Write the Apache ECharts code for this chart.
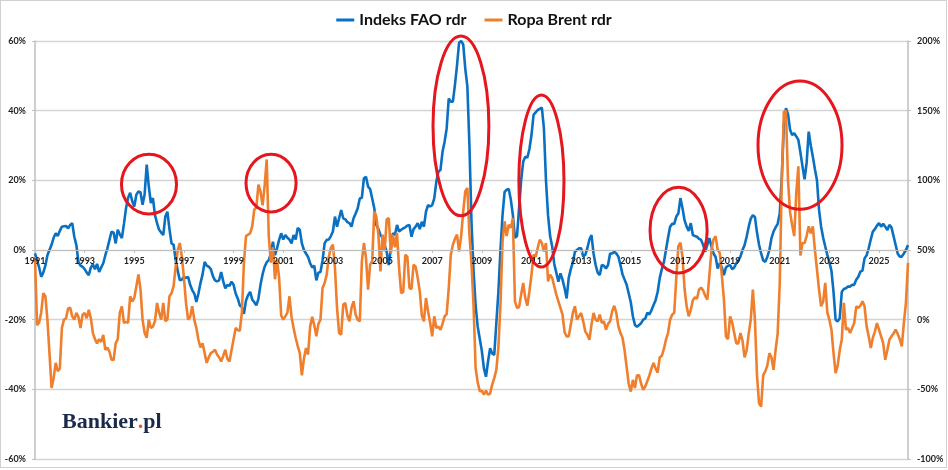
<!DOCTYPE html>
<html>
<head>
<meta charset="utf-8">
<script src="https://cdn.jsdelivr.net/npm/echarts@6/dist/echarts.min.js"></script>
<style>
  html, body { margin: 0; padding: 0; background: #fff; }
  #wrap { position: relative; width: 948px; height: 470px; }
  #chart { position: absolute; left: 0; top: 0; width: 948px; height: 470px; }
  #frame { position: absolute; left: 0; top: 0; width: 945px; height: 466px; border: 1.5px solid #d0d0d0; pointer-events: none; }
</style>
</head>
<body>
<div id="wrap"><div id="chart"></div><div id="frame"></div></div>
<script>
// ---- data (monthly, starting January 1991) ----
const startYear = 1991;
const seriesNames = ['Indeks FAO rdr', 'Ropa Brent rdr'];

// FAO food price index, y/y change in % (left axis)
const faoYoY = [
  -1,-3,-5,-7.7,-6.5,-4.5,-1.5,0,1.5,3.5,4.8,4.0,
  5.5,6.7,6.8,6.9,6.2,7.2,7.7,3.8,1.4,-3.4,-4.5,-4.8,
  -5.5,-6.5,-7.2,-5.0,-4.2,-5.5,-4.0,-6.3,-5.0,-3.8,-1.5,0.5,
  2.9,5.3,5.0,1.9,5.8,4.5,3.4,7.5,12,15,16.4,14,
  12.5,15.9,16.8,16.5,13,16,24.5,18.3,13.5,14.9,10,7.7,
  5.8,5.0,4.3,9.6,11,6,1.9,1.5,-2.9,-6,-8.7,-8.5,
  -7.7,-8,-7.7,-10,-11.5,-12.5,-14.9,-12.5,-9.5,-7,-3.4,-4.5,
  -4.8,-5.5,-7.5,-8.7,-9,-8.7,-6.3,-9,-11,-10,-10.3,-9.1,
  -10,-12.5,-13.9,-15.9,-16.4,-18.3,-14.5,-13,-12,-14.2,-15,-15.9,
  -14,-10,-7,-4.8,-3.5,-2.9,-1,2.4,-1.5,0.5,2.9,4.8,
  3,4.3,3.5,3,1.9,4.3,3,6.3,5.8,1.9,0,-1,
  -2,-3.8,-5,-4.5,-8.7,-6.5,-6.3,-3,1.9,2.9,3,4,
  5.3,9.6,6.7,9.1,11.5,9.1,8.8,8,7.7,6.7,9.1,10.5,
  12,14.8,15,20.6,21,18.2,17.5,14.8,12,7.2,6,4.3,
  3.5,1.4,-0.5,-4.3,0.5,4.8,4.3,7.2,5.3,5.8,6.2,6.5,
  7,7.2,3.8,6,6.7,7.7,6,8.1,6.7,11,12.9,12.5,
  12.9,14.8,19.6,22.5,23,28.2,31.1,34.9,43.5,42.6,42.6,47.4,
  53,59.5,60,59,52,47,30,8,-6,-16,-22,-25.5,
  -29,-34,-36.4,-32,-28.2,-29.7,-30.1,-21,-12,0,10,16.7,
  17.3,17.5,14.5,10,3.5,4,12,20,25.4,26.8,26.5,29,
  33,38.8,39.5,40.2,40.5,40.9,35,20,10,4,1,-4,
  -6.5,-9.1,-6.7,-8.5,-11,-13.9,-8,-5.5,-3.5,-0.5,0,0.5,
  0.5,-1.9,-1.4,0.5,3,4.3,-1,-4.3,-6.5,-7.2,-4.3,-4.5,
  -5.3,-4.3,-1,-1,-0.5,-1,-1.9,-4.3,-7,-8.5,-10,-12.5,
  -15,-19,-21.5,-22,-21.5,-21,-20,-19.7,-18,-18.5,-17.3,-15.8,
  -14.4,-12,-8,-5.5,-3.5,0,3.5,6.7,7.5,7.5,9.6,10.5,
  14.9,12,8.5,6.7,5.5,7.7,4.3,4,3.8,3.2,2.9,1.4,
  -0.5,1.5,3.4,1,-1,-2,-5.3,-3.8,-5,-7.2,-5,-4.5,
  -4.3,-5.5,-5,-3.8,-3,-1.9,0,1.4,3.8,6.7,9,10,
  9.5,5,1.5,-1,-3,-3.4,-2,0,3.4,5.3,6.5,7.5,
  10.5,21,36,40.7,39,34.5,33,33.5,32.6,31.6,28,24,
  20.3,25,34,30,26.8,23.2,20,11.5,6.7,3.5,1,-1.4,
  -3.5,-6,-12,-20,-20.5,-19.6,-12,-11.2,-11,-10.5,-10.5,-10,
  -10,-8.5,-7.7,-6.2,-5.9,-2.4,-1.5,0.5,3,5.3,6,7,
  7.7,6.7,7.5,6.7,5.7,7.2,6.5,4,1.5,-1,-1.9,-1.9,
  -1,0,1.4
];

// Brent crude, y/y change in % (right axis)
const brentYoY = [
  45,-4,-2,5,19,17,0,-24,-49,-42,-31,-37,
  -35,-6,0,1,8,8.5,2.4,0,4.8,2,-6,3.6,
  4.8,1,7,1,-9.6,-14,-17,-14,-16,-11,-21.6,-20,
  -23,-28.8,-29,-17,-14,5,9.6,-2.4,-1.5,-2.4,16.8,13,
  15.6,24,32.5,21.6,0,-9.6,-13,0,-6,-5,-1,12,
  5,0,12,-1,0,16.8,19,24,38,50,55,45,
  30,12,0,2,9.6,0,-6,-14.4,-20,-17,-24,-31,
  -27,-24,-23,-21.6,-25,-27,-30,-26,-21.6,-28,-30,-22,
  -14,-6,-7.5,-8,5,41,60,61,62,67,79,80.5,
  97,92,82,96,115,60,41,52,29,43,30,3,
  0,2.4,5,16.8,2,-6,-13,-19,-24,-40,-28,-20.4,
  -25,-5,2,-4,-12,-3,0,22.8,26.3,32.3,45,51.4,
  53.8,37,8.4,-9.6,-10.8,10.8,12,3,-1.2,8.4,13.2,3.6,
  0,-1.2,41.9,55,44.3,21.5,39.5,42,77.7,74,61,34.7,
  61,49,71.8,73,47.8,61,52,62.2,37,19,20,46.6,
  45,22.7,22,39.5,38,30,20.3,3,-1.2,15.5,6,-2,
  -12,2.4,-6,-5,-7.2,-3,2.4,4,22.7,46.6,53.8,58,
  61,49,60,77.7,92,94.5,61,40,10,-35,-45,-51.4,
  -51,-53.8,-51,-53.8,-53,-46.6,-42,-36,-20,10.8,56,70.6,
  60,68.2,66,73,13.2,8.4,9,18,26.3,15.5,10,20.3,
  32.3,46.6,45,51.4,57.4,55,49,55,27.5,32.3,30,24,
  18,13.2,8.4,3.6,-9,-12,-12,-3.6,5,9.6,0,2.5,
  4.8,-1.2,-8.4,-10.8,-14.4,-3.6,4.8,0,-1.2,3.6,-2.4,-1.2,
  -7.2,-3,-1.2,6,10,4.8,-4.8,-9.6,-13,-22,-34,-46,
  -51.6,-43.2,-49,-40,-40,-46,-50.4,-48,-44,-40,-35,-31,
  -35,-38,-27,-26,-21,-14.4,-9.6,0,3.6,5,30,52.8,
  55.2,45,22,9.6,2.4,7,14,16,15,21.6,23,21,
  17,14.4,32,50,57.6,60,50,48,32,15,-12,-14,
  2.4,-2,-9.6,-17,-17,-9.6,-15,-27,-22,-10,0,21.6,
  0,-40,-60,-62.4,-40,-37,-33,-24,-27,-36,-21.6,-10,
  26,100,149,150,100,77,68,60,91,110,46,55,
  55,60,67,62,67,50,36,21.6,9.6,13,26.4,5,
  0,-7.2,-24,-38.4,-33,-22,-14,12,-7.2,-6,-9.6,-6,
  -2.4,9.6,8.4,10,13.2,9.6,-4.8,-12,-20.4,-13,-8.4,-2.4,
  -7.2,-12,-16.8,-28.8,-22,-14.4,-12,-10,-7.2,-10,-14,-19.2,
  -2.4,12,40.8
];

// highlighted episodes: [month index of centre, centre value (left axis %), half-width in months, half-height in %]
const highlightEllipses = [
  [55.1, 18.9, 13.3, 8.6],
  [114.1, 19.2, 12.1, 8.3],
  [205.9, 35.6, 13.5, 25.8],
  [244.8, 19.8, 10.9, 24.7],
  [311.1, 5.7, 13.8, 12.3],
  [369.8, 30.1, 20.3, 18.4]
];

// month categories
const categories = faoYoY.map(function (_, i) {
  const y = startYear + Math.floor(i / 12);
  const m = (i % 12) + 1;
  return y + '-' + (m < 10 ? '0' + m : m);
});

const GRID_TOP = 41, GRID_BOTTOM = 11, HEIGHT = 470;
const chart = echarts.init(document.getElementById('chart'), null, { renderer: 'canvas' });
const axisFont = { fontFamily: 'Lato', fontWeight: 'bold', fontSize: 9, color: '#222' };

chart.setOption({
  animation: false,
  legend: {
    top: 7,
    left: 'center',
    itemWidth: 18,
    itemHeight: 3,
    itemGap: 18,
    icon: 'rect',
    textStyle: { fontFamily: 'Lato', fontWeight: 'bold', fontSize: 16, color: '#111' },
    data: seriesNames
  },
  grid: { left: 35, right: 40, top: GRID_TOP, bottom: GRID_BOTTOM, containLabel: false },
  xAxis: {
    type: 'category',
    data: categories,
    boundaryGap: false,
    position: 'bottom',
    z: 4,
    // the category axis crosses the left value axis at 0% (middle of the plot)
    offset: -(HEIGHT - GRID_TOP - GRID_BOTTOM) / 2,
    axisLine: { onZero: false, lineStyle: { color: '#bfbfbf', width: 1 } },
    axisTick: { show: true, interval: 23, length: 3, lineStyle: { color: '#bfbfbf' } },
    axisLabel: Object.assign({ interval: 23, margin: 7, formatter: function (v) { return v.slice(0, 4); } }, axisFont),
    splitLine: { show: false }
  },
  yAxis: [
    {
      type: 'value', min: -60, max: 60, interval: 20, position: 'left',
      axisLine: { show: true, onZero: false, lineStyle: { color: '#bfbfbf', width: 1.5 } },
      axisTick: { show: true, length: 3, lineStyle: { color: '#bfbfbf' } },
      axisLabel: Object.assign({ margin: 9, formatter: '{value}%' }, axisFont),
      splitLine: { show: true, lineStyle: { color: '#d4d4d4', width: 1.3 } }
    },
    {
      type: 'value', min: -100, max: 200, interval: 50, position: 'right',
      axisLine: { show: true, onZero: false, lineStyle: { color: '#bfbfbf', width: 1.5 } },
      axisTick: { show: true, length: 3, lineStyle: { color: '#bfbfbf' } },
      axisLabel: Object.assign({ margin: 9, formatter: '{value}%' }, axisFont),
      splitLine: { show: false }
    }
  ],
  series: [
    {
      name: seriesNames[0], type: 'line', yAxisIndex: 0, data: faoYoY,
      showSymbol: false, symbol: 'none', color: '#0a70c2',
      lineStyle: { width: 2.6, color: '#0a70c2' }, z: 2
    },
    {
      name: seriesNames[1], type: 'line', yAxisIndex: 1, data: brentYoY,
      showSymbol: false, symbol: 'none', color: '#ef7f2d',
      lineStyle: { width: 2.6, color: '#ef7f2d' }, z: 3
    },
    {
      type: 'custom', xAxisIndex: 0, yAxisIndex: 0, clip: false, z: 5, silent: true,
      data: highlightEllipses.map(function (e) { return [Math.round(e[0]), e[1]]; }),
      renderItem: function (params, api) {
        const e = highlightEllipses[params.dataIndex];
        const base = api.coord([api.value(0), api.value(1)]);
        const unit = api.size([1, e[3] * 2]);
        const cx = base[0] + (e[0] - Math.round(e[0])) * unit[0];
        return {
          type: 'ellipse',
          shape: { cx: cx, cy: base[1], rx: e[2] * unit[0], ry: unit[1] / 2 },
          style: { fill: 'none', stroke: '#e5161d', lineWidth: 3 }
        };
      }
    }
  ],
  graphic: [
    {
      type: 'text', left: 62, top: 411, z: 10,
      style: {
        text: '{b|Bankier}{d|.}{b|pl}',
        rich: {
          b: { fontFamily: 'Liberation Serif', fontWeight: 'bold', fontSize: 22, fill: '#1b2a4b' },
          d: { fontFamily: 'Liberation Serif', fontWeight: 'bold', fontSize: 22, fill: '#e9532c' }
        }
      }
    }
  ]
});
</script>
</body>
</html>
